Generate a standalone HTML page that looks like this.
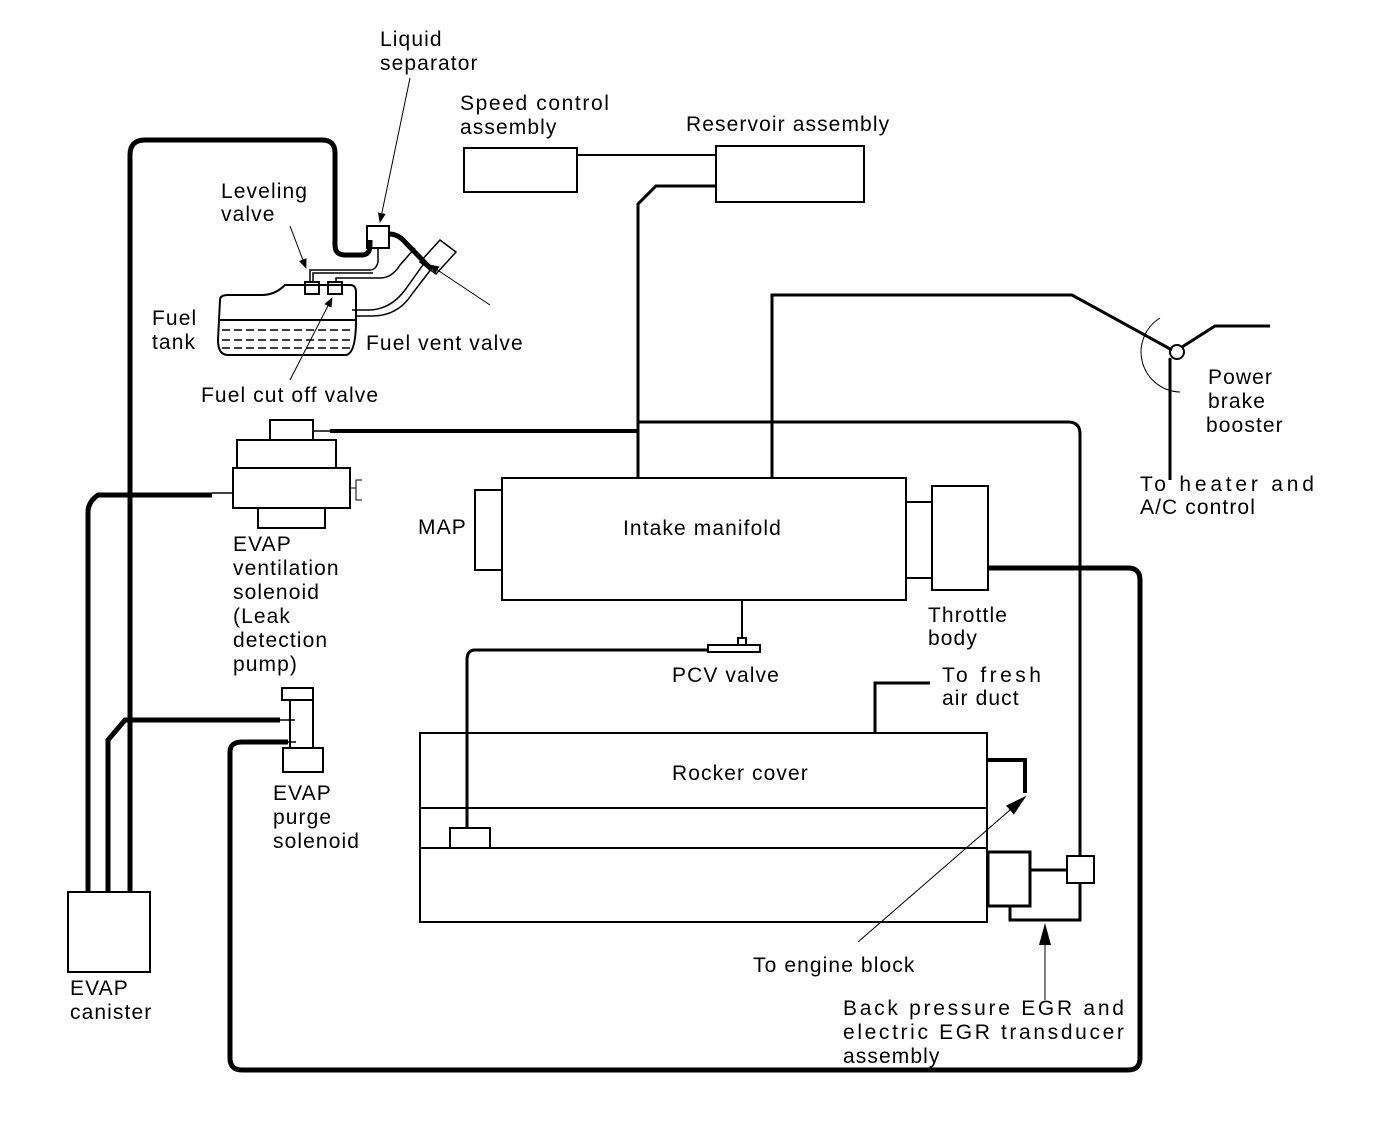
<!DOCTYPE html>
<html><head><style>
body{margin:0;background:#fff}
svg text{font-family:"Liberation Sans",Arial,sans-serif;font-size:21px;letter-spacing:1.1px;fill:#000}
</style></head><body>
<svg width="1392" height="1140" viewBox="0 0 1392 1140" xmlns="http://www.w3.org/2000/svg">
<defs><marker id="ah" markerWidth="10" markerHeight="10" refX="9" refY="5" orient="auto" markerUnits="userSpaceOnUse"><path d="M0,1 L10,5 L0,9 z" fill="#000"/></marker>
<marker id="ab" markerWidth="22" markerHeight="16" refX="20" refY="8" orient="auto" markerUnits="userSpaceOnUse"><path d="M0,2 L22,8 L0,14 z" fill="#000"/></marker></defs>
<g fill="none" stroke="#000">
<path d="M130,892 V155 Q130,140 145,140 H322 Q335,140 335,153 V245 Q335,255 345,255 H362 Q370,255 370,245 V240" stroke-width="5"/>
<rect x="367" y="226" width="22" height="22" stroke-width="2"/>
<path d="M389,234 Q398,234 405,242 L432,270" stroke-width="5"/>
<path d="M220,300 Q220,295 228,295 H262 Q275,295 285,285 H350 Q356,285 356,292 V320 Q356,355 345,355 H228 Q218,355 218,340 Z" stroke-width="2"/>
<path d="M220,320 H356" stroke-width="2"/>
<path d="M222,330 H354 M222,340 H354 M222,348 H354" stroke-width="1.5" stroke-dasharray="8,4"/>
<rect x="305" y="282" width="14" height="12" stroke-width="2"/>
<rect x="328" y="282" width="14" height="12" stroke-width="2"/>
<path d="M310,282 V270 H370 Q376,270 378,262 V248 M313,282 V273 H373" stroke-width="1.5"/>
<path d="M336,282 V278 H380 Q392,278 400,265 L415,248" stroke-width="1.5"/>
<path d="M352,310 H368 Q390,310 405,290 L425,262 M355,316 H372 Q398,316 412,294 L432,268" stroke-width="1.5"/>
<path d="M420,262 L440,240 L456,252 L436,274 Z" stroke-width="1.5"/>
<path d="M410,78 L380,222" stroke-width="1" marker-end="url(#ah)"/>
<path d="M290,226 L306,268" stroke-width="1" marker-end="url(#ah)"/>
<path d="M490,305 L430,265" stroke-width="1" marker-end="url(#ah)"/>
<path d="M290,380 L332,298" stroke-width="1" marker-end="url(#ah)"/>
<rect x="464" y="148" width="113" height="44" stroke-width="2"/>
<rect x="716" y="146" width="148" height="56" stroke-width="2"/>
<path d="M577,155 H716" stroke-width="2"/>
<path d="M716,186 H656 L638,204 V478" stroke-width="3"/>
<path d="M637,422 H1068 Q1080,422 1080,434 V856" stroke-width="3"/>
<path d="M772,478 V295 H1072 L1172,350" stroke-width="3"/>
<circle cx="1177" cy="352" r="7" stroke-width="2"/>
<path d="M1182,347 L1215,326 H1270 M1170,358 V480" stroke-width="3"/>
<path d="M1160,318 A40,40 0 0 0 1180,392" stroke-width="1"/>
<rect x="502" y="478" width="404" height="122" stroke-width="2"/>
<rect x="475" y="490" width="27" height="80" stroke-width="2"/>
<rect x="906" y="502" width="26" height="76" stroke-width="2"/>
<rect x="932" y="486" width="56" height="104" stroke-width="2"/>
<path d="M988,568 H1128 Q1140,568 1140,580 V1058 Q1140,1070 1128,1070 H242 Q230,1070 230,1058 V752 Q230,742 242,742 H288" stroke-width="5"/>
<path d="M742,600 V638" stroke-width="2"/>
<path d="M708,645 H760 V652 H708 Z M738,638 H746 V645 H738 Z" stroke-width="2"/>
<path d="M708,650 H475 Q467,650 467,660 V828" stroke-width="3"/>
<rect x="420" y="733" width="567" height="189" stroke-width="2"/>
<path d="M420,808 H987 M420,848 H987" stroke-width="2"/>
<rect x="450" y="828" width="40" height="20" stroke-width="2"/>
<path d="M875,733 V683 H930" stroke-width="3"/>
<path d="M988,760 H1025 V793" stroke-width="4"/>
<path d="M858,942 L1025,797" stroke-width="1" marker-end="url(#ab)"/>
<rect x="988" y="852" width="42" height="54" stroke-width="3"/>
<path d="M1030,870 H1067" stroke-width="3"/>
<rect x="1067" y="856" width="27" height="27" stroke-width="2"/>
<path d="M1010,906 V920 H1080 V884" stroke-width="3"/>
<path d="M1045,1000 V925" stroke-width="1" marker-end="url(#ab)"/>
<rect x="270" y="420" width="43" height="20" stroke-width="2"/>
<rect x="237" y="440" width="99" height="28" stroke-width="2"/>
<rect x="233" y="468" width="117" height="40" stroke-width="2"/>
<rect x="258" y="508" width="67" height="20" stroke-width="2"/>
<path d="M350,488 H356 V500 H362 M356,488 V480 H362" stroke-width="1"/>
<path d="M313,431 H330" stroke-width="1.5"/>
<path d="M330,431 H637" stroke-width="4"/>
<path d="M88,892 V512 Q88,502 98,495 H212" stroke-width="5"/>
<path d="M212,493 H233" stroke-width="1.5"/>
<path d="M282,688 H313 V700 H282 Z" stroke-width="2"/>
<rect x="290" y="700" width="23" height="48" stroke-width="2"/>
<rect x="283" y="748" width="40" height="24" stroke-width="2"/>
<path d="M108,892 V740 L125,720 H280" stroke-width="5"/>
<path d="M270,720 H295 M270,742 H296" stroke-width="1.5"/>
<rect x="68" y="892" width="82" height="80" stroke-width="2"/>
</g>
<text x="380" y="46">Liquid</text><text x="380" y="70">separator</text>
<text x="460" y="110" textLength="150" lengthAdjust="spacing">Speed control</text><text x="460" y="134">assembly</text>
<text x="686" y="131">Reservoir assembly</text>
<text x="221" y="198">Leveling</text><text x="221" y="221">valve</text>
<text x="152" y="325">Fuel</text><text x="152" y="349">tank</text>
<text x="366" y="350">Fuel vent valve</text>
<text x="201" y="402">Fuel cut off valve</text>
<text x="1208" y="384">Power</text><text x="1208" y="408">brake</text><text x="1206" y="432">booster</text>
<text x="1140" y="491" textLength="175" lengthAdjust="spacing">To heater and</text><text x="1140" y="514">A/C control</text>
<text x="418" y="534">MAP</text>
<text x="623" y="535">Intake manifold</text>
<text x="928" y="622">Throttle</text><text x="928" y="645">body</text>
<text x="233" y="551">EVAP</text><text x="233" y="575">ventilation</text><text x="233" y="599">solenoid</text><text x="233" y="623">(Leak</text><text x="233" y="647">detection</text><text x="233" y="671">pump)</text>
<text x="672" y="682">PCV valve</text>
<text x="942" y="682" textLength="100" lengthAdjust="spacing">To fresh</text><text x="942" y="705">air duct</text>
<text x="672" y="780">Rocker cover</text>
<text x="273" y="800">EVAP</text><text x="273" y="824">purge</text><text x="273" y="848">solenoid</text>
<text x="753" y="972">To engine block</text>
<text x="70" y="995">EVAP</text><text x="70" y="1019">canister</text>
<text x="843" y="1015" textLength="282" lengthAdjust="spacing">Back pressure EGR and</text>
<text x="843" y="1039" textLength="282" lengthAdjust="spacing">electric EGR transducer</text>
<text x="843" y="1063">assembly</text>
</svg>
</body></html>
